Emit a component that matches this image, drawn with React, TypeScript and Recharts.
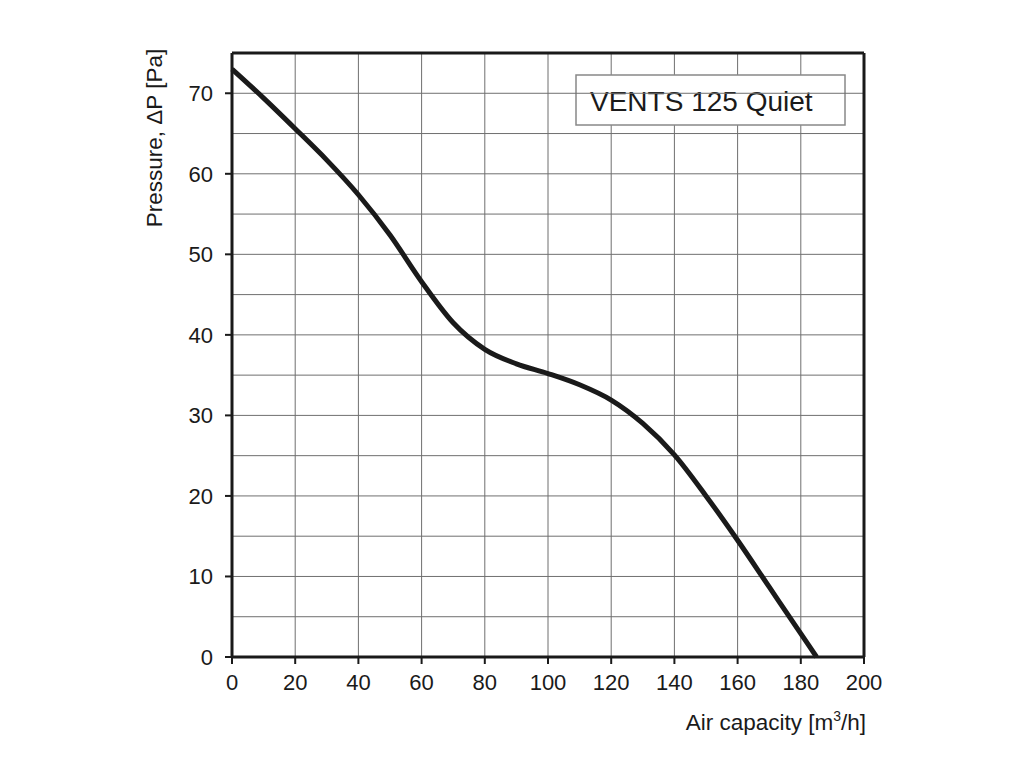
import React from "react";
import {
  LineChart,
  Line,
  XAxis,
  YAxis,
  CartesianGrid,
  ReferenceLine,
} from "recharts";

const airCapacity = [0, 10, 20, 30, 40, 50, 60, 70, 80, 90, 100, 110, 120, 130, 140, 150, 160, 170, 180, 185];
const pressure = [73, 69.4, 65.6, 61.7, 57.4, 52.4, 46.6, 41.5, 38.2, 36.4, 35.2, 33.8, 31.9, 29, 25.1, 20, 14.5, 8.7, 2.9, 0];
const xTicks = [0, 20, 40, 60, 80, 100, 120, 140, 160, 180, 200];
const yTicks = [0, 10, 20, 30, 40, 50, 60, 70];
const yGrid = [5, 10, 15, 20, 25, 30, 35, 40, 45, 50, 55, 60, 65, 70];
const seriesName = "VENTS 125 Quiet";

const data = airCapacity.map((x, i) => ({ x, p: pressure[i] }));

const FONT = "'Liberation Sans', Arial, sans-serif";

export default function App() {
  return (
    <div style={{ position: "absolute", left: 0, top: 0, width: 1024, height: 768, background: "#fff" }}>
      <LineChart
        width={1024}
        height={768}
        data={data}
        margin={{ top: 53, right: 160, left: 172, bottom: 51 }}
      >
        <CartesianGrid stroke="#6f6f6f" strokeWidth={1} vertical={true} horizontal={false} />
        {yGrid.map((v) => (
          <ReferenceLine key={v} y={v} stroke="#6f6f6f" strokeWidth={1} />
        ))}
        <ReferenceLine y={75} stroke="#1a1a1a" strokeWidth={3} />
        <ReferenceLine x={200} stroke="#1a1a1a" strokeWidth={3} />
        <XAxis
          dataKey="x"
          type="number"
          domain={[0, 200]}
          ticks={xTicks}
          height={60}
          axisLine={{ stroke: "#1a1a1a", strokeWidth: 3 }}
          tickLine={{ stroke: "#1a1a1a", strokeWidth: 2 }}
          tickSize={7}
          tick={{ fill: "#1a1a1a", fontSize: 22, fontFamily: FONT }}
          tickMargin={10}
        />
        <YAxis
          type="number"
          domain={[0, 75]}
          ticks={yTicks}
          width={60}
          axisLine={{ stroke: "#1a1a1a", strokeWidth: 3 }}
          tickLine={{ stroke: "#1a1a1a", strokeWidth: 2 }}
          tickSize={7}
          tick={{ fill: "#1a1a1a", fontSize: 22, fontFamily: FONT }}
          tickMargin={12}
        />
        <Line
          type="monotone"
          dataKey="p"
          stroke="#1a1a1a"
          strokeWidth={5}
          dot={false}
          isAnimationActive={false}
        />
        <rect x={576} y={75} width={269} height={50} fill="#fff" stroke="#888" strokeWidth={1.5} />
        <text x={590} y={111} fontSize={28} fontFamily={FONT} fill="#1a1a1a">
          {seriesName}
        </text>
        <text
          x={0}
          y={0}
          transform="translate(162,138) rotate(-90)"
          textAnchor="middle"
          fontSize={22.5}
          fontFamily={FONT}
          fill="#1a1a1a"
        >
          Pressure, ΔP [Pa]
        </text>
        <text x={866} y={730} textAnchor="end" fontSize={22.5} fontFamily={FONT} fill="#1a1a1a">
          Air capacity [m<tspan fontSize={14} dy={-9}>3</tspan>
          <tspan dy={9}>/h]</tspan>
        </text>
      </LineChart>
    </div>
  );
}
